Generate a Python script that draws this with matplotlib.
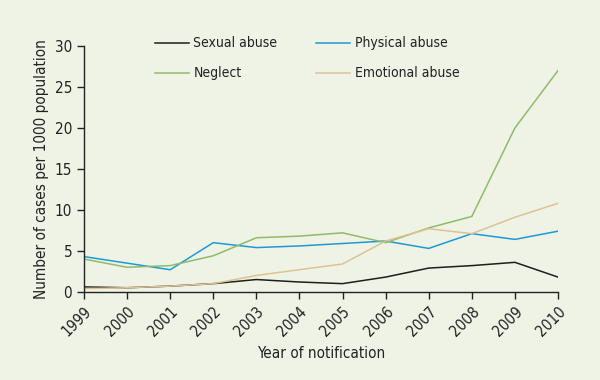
import matplotlib
matplotlib.use("Agg")
import matplotlib.pyplot as plt

years = [1999, 2000, 2001, 2002, 2003, 2004, 2005, 2006, 2007, 2008, 2009, 2010]
sexual = [0.6, 0.5, 0.7, 1.0, 1.5, 1.2, 1.0, 1.8, 2.9, 3.2, 3.6, 1.8]
physical = [4.3, 3.5, 2.7, 6.0, 5.4, 5.6, 5.9, 6.2, 5.3, 7.1, 6.4, 7.4]
neglect = [4.0, 3.0, 3.2, 4.4, 6.6, 6.8, 7.2, 6.0, 7.8, 9.2, 20.0, 27.0]
emotional = [0.4, 0.5, 0.7, 1.0, 2.0, 2.7, 3.4, 6.2, 7.7, 7.1, 9.1, 10.8]

plt.rcParams['font.family'] = ['DejaVu Sans']
plt.rcParams['font.stretch'] = 'condensed'

bg = '#eef3e5'
fig = plt.figure(figsize=(6, 3.8), dpi=100, facecolor=bg)
ax = fig.add_axes([0.14, 0.232, 0.79, 0.647], facecolor=bg)

ax.plot(years, sexual, color='#1e1e1e', lw=1.1, label='Sexual abuse')
ax.plot(years, physical, color='#1d9ad6', lw=1.1, label='Physical abuse')
ax.plot(years, neglect, color='#8fbb6c', lw=1.1, label='Neglect')
ax.plot(years, emotional, color='#dcc393', lw=1.1, label='Emotional abuse')

ax.set_xlim(1999, 2010)
ax.set_ylim(0, 30)
ax.set_xticks(years)
ax.set_xticklabels([str(y) for y in years], rotation=45, ha='right', rotation_mode='anchor')
ax.set_yticks(range(0, 31, 5))
for s in ['top', 'right']:
    ax.spines[s].set_visible(False)
for s in ['left', 'bottom']:
    ax.spines[s].set_color('#222222')
    ax.spines[s].set_linewidth(1.0)
ax.tick_params(axis='both', direction='out', length=5, width=1, color='#222222', labelsize=11, labelcolor='#222222')
ax.set_xlabel('Year of notification', fontsize=11, color='#222222', labelpad=5)
ax.set_ylabel('Number of cases per 1000 population', fontsize=11, color='#222222')

h, l = ax.get_legend_handles_labels()
order = [0, 2, 1, 3]
leg = fig.legend([h[i] for i in order], [l[i] for i in order], ncol=2, frameon=False,
                 loc='upper left', bbox_to_anchor=(0.238, 0.937), fontsize=10,
                 handlelength=2.4, columnspacing=2.8, labelspacing=1.15, handletextpad=0.35)
for t in leg.get_texts():
    t.set_color('#222222')

fig.savefig('out.png', dpi=100, facecolor=bg)
